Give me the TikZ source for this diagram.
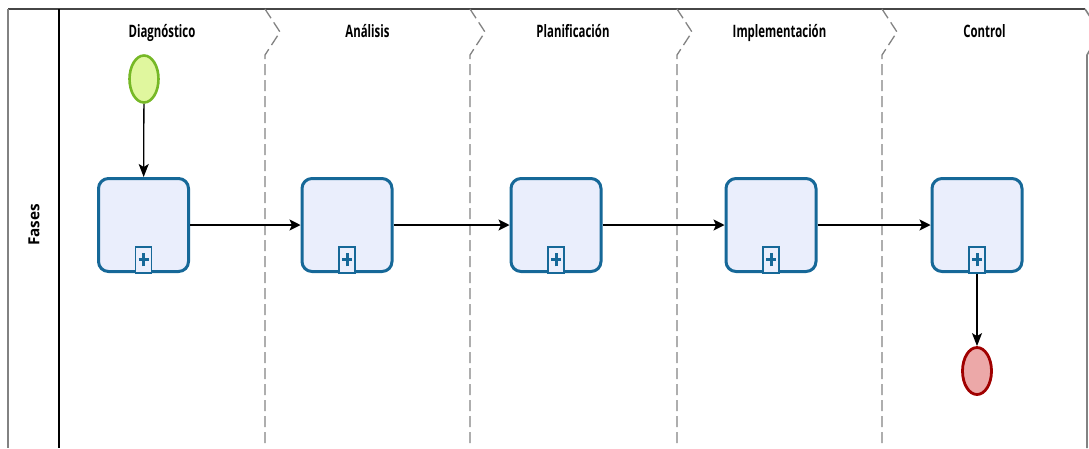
\documentclass[tikz,border=0pt]{standalone}
\usepackage{fontspec}
\setmainfont{Open Sans}
\usetikzlibrary{shapes.geometric,arrows.meta}

\definecolor{taskline}{RGB}{22,104,152}
\definecolor{taskfill}{RGB}{234,238,252}
\definecolor{startline}{RGB}{118,184,38}
\definecolor{startfill}{RGB}{224,247,158}
\definecolor{endline}{RGB}{160,0,0}
\definecolor{endfill}{RGB}{236,168,168}
\definecolor{laneline}{RGB}{130,130,130}
\definecolor{frameline}{RGB}{70,70,70}

\tikzset{
  task/.style={draw=taskline, fill=taskfill, line width=3pt, rounded corners=10pt,
               minimum width=90pt, minimum height=93pt, inner sep=0pt},
  submarker/.style={draw=taskline, fill=taskfill, line width=1.4pt,
               minimum width=16pt, minimum height=26pt, inner sep=0pt, anchor=south},
  plussign/.style={draw=taskline, line width=3pt},
  startev/.style={ellipse, draw=startline, fill=startfill, line width=2.6pt,
               minimum width=29pt, minimum height=47pt, inner sep=0pt},
  endev/.style={ellipse, draw=endline, fill=endfill, line width=2.8pt,
               minimum width=29pt, minimum height=47pt, inner sep=0pt},
  flowh/.style={line width=1.3pt, -{Stealth[length=11pt, width=11pt, inset=2.5pt]}},
  flowv/.style={line width=1.3pt, -{Stealth[length=13pt, width=10pt, inset=3pt]}},
  lanesep/.style={draw=laneline, line width=1.3pt, dash pattern=on 11pt off 5pt},
  header/.style={font=\bfseries\fontsize{11.4}{13}\selectfont, anchor=base, inner sep=0pt},
}

\newcommand{\hdr}[1]{\scalebox{1}[1.5]{#1}}

\begin{document}
\begin{tikzpicture}[x=1pt, y=-1pt]
  \useasboundingbox (0,0) rectangle (1089,448);

  % pool frame and label column
  \draw[frameline, line width=1.8pt] (8,9) -- (1085,9);
  \draw[laneline, line width=1.6pt] (8,9) -- (8,448);
  \draw[black, line width=1.3pt] (59,9) -- (59,448);
  \node[rotate=90, font=\bfseries\fontsize{15.3}{17}\selectfont, inner sep=0pt] (pool) at (34,225) {Fases};

  % right edge of the last phase
  \begin{scope}
    \clip (0,0) rectangle (1089,448);
    \draw[laneline, line width=1.6pt] (1085,9) -- (1100,32) -- (1087,55) -- (1087,448);
  \end{scope}

  % phase separators
  \foreach \sx in {265,470,677,882} {
    \draw[lanesep] (\sx,9) -- (\sx+15,32) -- (\sx,55) -- (\sx,448);
  }

  % phase headers
  \node[header] (h1) at (162,37.5)   {\hdr{Diagnóstico}};
  \node[header] (h2) at (367.5,37.5) {\hdr{Análisis}};
  \node[header] (h3) at (573,37.5)   {\hdr{Planificación}};
  \node[header] (h4) at (779.5,37.5) {\hdr{Implementación}};
  \node[header] (h5) at (984.5,37.5) {\hdr{Control}};

  % events
  \node[startev] (start) at (144,79) {};
  \node[endev]   (end)   at (977,371) {};

  % collapsed sub-processes
  \foreach \n/\cx in {1/143.5, 2/347, 3/556, 4/771, 5/977} {
    \node[task] (t\n) at (\cx,225) {};
    \node[submarker] (m\n) at ([yshift=-0.5pt]t\n.south) {};
    \draw[plussign] ([xshift=-5pt]m\n.center) -- ([xshift=5pt]m\n.center);
    \draw[plussign] ([yshift=-6.5pt]m\n.center) -- ([yshift=6.5pt]m\n.center);
  }

  % sequence flows
  \draw[flowv] (start) -- (t1);
  \draw[flowh] (t1) -- (t2);
  \draw[flowh] (t2) -- (t3);
  \draw[flowh] (t3) -- (t4);
  \draw[flowh] (t4) -- (t5);
  \draw[flowv] (m5.south) -- (end);
\end{tikzpicture}
\end{document}
